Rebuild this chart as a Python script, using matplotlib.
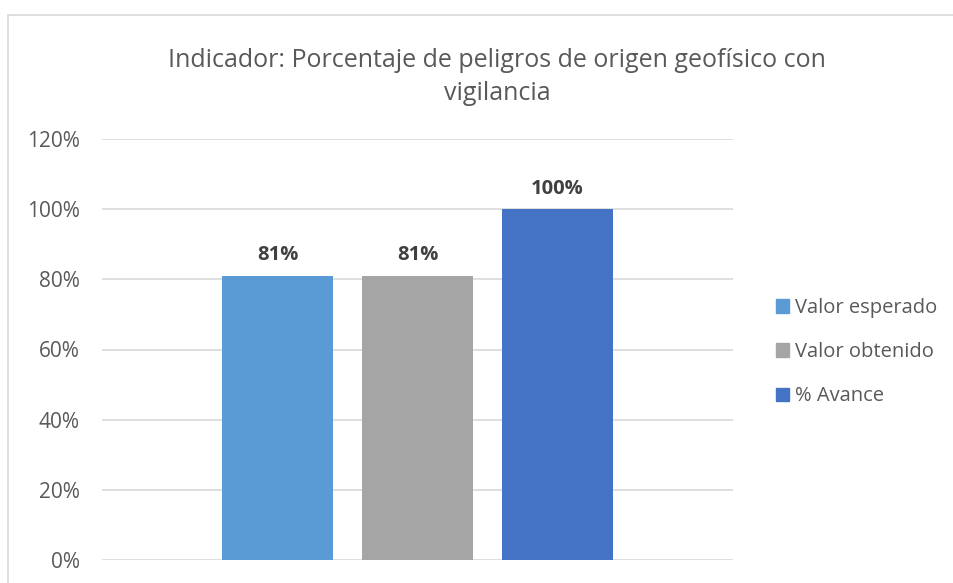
import matplotlib.pyplot as plt
from matplotlib.patches import Rectangle, Patch
from matplotlib.ticker import PercentFormatter

plt.rcParams['font.family'] = ['Open Sans', 'DejaVu Sans']

series = ['Valor esperado', 'Valor obtenido', '% Avance']
values = [81, 81, 100]
colors = ['#5B9BD5', '#A5A5A5', '#4472C4']
yticks = [0, 20, 40, 60, 80, 100, 120]
title = 'Indicador: Porcentaje de peligros de origen geofísico con\nvigilancia'

W, H = 954, 583
fig = plt.figure(figsize=(W / 100, H / 100), dpi=100)
ax = fig.add_axes([102 / W, 1 - 560 / H, (733 - 102) / W, (560 - 139) / H])

# chart border
fig.patches.append(Rectangle((8.5 / W, -0.01), 1.0, 1 - 14.5 / H + 0.01,
                             transform=fig.transFigure, fill=False,
                             edgecolor='#D9D9D9', lw=1.2))

xs = range(len(values))
bars = ax.bar(xs, values, width=0.793, color=colors, zorder=3)
for b, v in zip(bars, values):
    ax.text(b.get_x() + b.get_width() / 2, v + 3.0, f'{v}%', ha='center',
            va='bottom', fontsize=14.5, fontweight='bold', color='#404040')

ax.set_xlim(1 - 2.254, 1 + 2.254)
ax.set_ylim(0, 120)
ax.set_yticks(yticks)
ax.yaxis.set_major_formatter(PercentFormatter(decimals=0))
ax.set_xticks([])
ax.grid(axis='y', color='#D9D9D9', lw=1.2, zorder=0)
for s in ax.spines.values():
    s.set_visible(False)
ax.tick_params(axis='y', length=0, pad=16, labelsize=15, labelcolor='#595959')

fig.text(497 / W, 1 - 77 / H, title, ha='center', va='center',
         fontsize=18, color='#595959', linespacing=1.45)

handles = [Patch(color=c) for c in colors]
fig.legend(handles, series, loc='upper left', bbox_to_anchor=(768 / W, 1 - 290 / H),
           frameon=False, fontsize=14.5, labelcolor='#595959',
           handlelength=0.65, handleheight=0.65, handletextpad=0.3,
           labelspacing=1.2, borderaxespad=0)

fig.savefig('out.png', dpi=100)
